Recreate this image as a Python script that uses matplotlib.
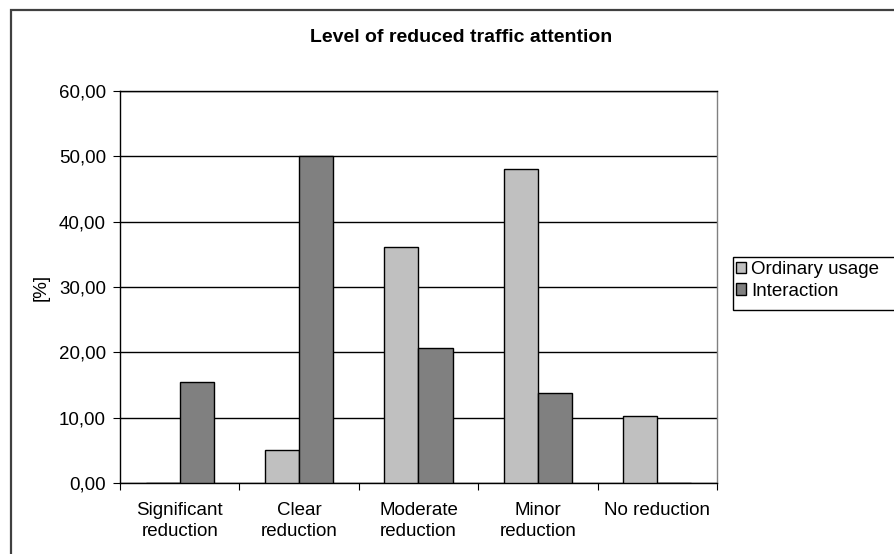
import matplotlib
matplotlib.use("Agg")
import matplotlib.pyplot as plt
import numpy as np
from matplotlib.patches import Rectangle

plt.rcParams['font.family'] = ['Liberation Sans', 'DejaVu Sans']

categories = ["Significant\nreduction", "Clear\nreduction", "Moderate\nreduction",
              "Minor\nreduction", "No reduction"]
ordinary_usage = [0.0, 5.1, 36.1, 48.1, 10.3]
interaction = [15.5, 50.0, 20.6, 13.7, 0.0]
series_names = ["Ordinary usage", "Interaction"]
y_ticks = [0, 10, 20, 30, 40, 50, 60]

W, H = 895, 554
FS = 13.5
fig = plt.figure(figsize=(W / 100, H / 100), dpi=100)

# outer chart border (continues past the right and bottom edges)
fig.patches.append(Rectangle((11 / W, -0.05), (911 - 11) / W, 1 - 10 / H + 0.05,
                             transform=fig.transFigure, fill=False,
                             edgecolor="#404040", linewidth=1.6))

left, right, top, bottom = 120, 717, 91, 483
ax = fig.add_axes([left / W, 1 - bottom / H, (right - left) / W, (bottom - top) / H])

x = np.arange(len(categories))
bw = 1 / 3.5
ax.bar(x - bw / 2, ordinary_usage, bw, color="#C0C0C0", edgecolor="black",
       linewidth=1.0, label=series_names[0], zorder=3)
ax.bar(x + bw / 2, interaction, bw, color="#808080", edgecolor="black",
       linewidth=1.0, label=series_names[1], zorder=3)

ax.set_xlim(-0.5, len(categories) - 0.5)
ax.set_ylim(0, 60)
ax.set_yticks(y_ticks)
ax.set_yticklabels([f"{v:.2f}".replace(".", ",") for v in y_ticks], fontsize=FS)
ax.yaxis.grid(True, color="black", linewidth=1.0, zorder=0)
ax.set_axisbelow(True)

# category boundaries carry the tick marks; labels sit centred
ax.set_xticks(np.arange(len(categories) + 1) - 0.5)
ax.set_xticklabels([])
ax.set_xticks(x, minor=True)
ax.set_xticklabels(categories, minor=True, fontsize=FS, linespacing=1.25)
ax.tick_params(axis="x", which="minor", length=0, pad=14)
ax.tick_params(axis="x", which="major", length=5, direction="out", color="black")
ax.tick_params(axis="y", length=5, direction="out", pad=5)

for s in ["left", "bottom", "top"]:
    ax.spines[s].set_color("black")
    ax.spines[s].set_linewidth(1.0)
ax.spines["right"].set_color("#808080")
ax.spines["right"].set_linewidth(1.0)

ax.set_ylabel("[%]", fontsize=FS, labelpad=7)

fig.text(461 / W, 1 - 37 / H, "Level of reduced traffic attention",
         ha="center", va="center", fontsize=14, fontweight="bold")

# legend box runs past the right edge of the figure
fig.patches.append(Rectangle((733 / W, 1 - 310 / H), 200 / W, 53 / H,
                             transform=fig.transFigure, fill=True,
                             facecolor="white", edgecolor="black", linewidth=1.0))
leg = fig.legend(loc="upper left", bbox_to_anchor=(734 / W, 1 - 259 / H),
                 fontsize=FS, frameon=False, handlelength=0.55,
                 handleheight=0.55, handletextpad=0.25, borderpad=0.1,
                 labelspacing=0.25, borderaxespad=0)

fig.savefig("out.png", dpi=100)
